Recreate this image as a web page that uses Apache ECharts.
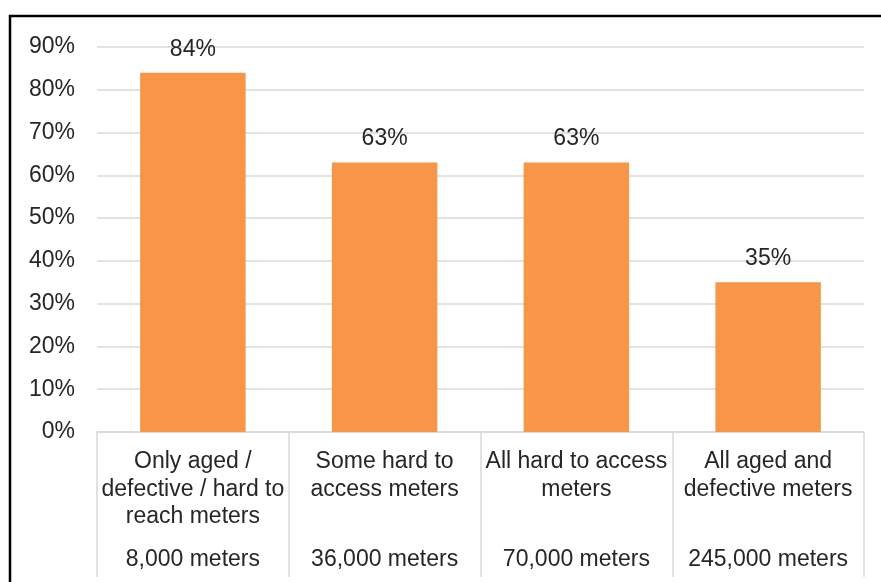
<!DOCTYPE html>
<html>
<head>
    <meta charset="utf-8"/>
    <title>ECharts</title>
    <script src="https://cdn.jsdelivr.net/npm/echarts@6/dist/echarts.min.js"></script>
    <style>
        body { margin: 0; background: #fff; }
    </style>
</head>
<body>
<div id="main" style="width: 881px;height:582px;"></div>
<script type="text/javascript">
    // 类别名称
    var categories = ['Only aged /\ndefective / hard to\nreach meters', 'Some hard to\naccess meters', 'All hard to access\nmeters', 'All aged and\ndefective meters'];
    // 表计数量
    var meterCounts = ['8,000 meters', '36,000 meters', '70,000 meters', '245,000 meters'];
    // 百分比
    var shares = [84, 63, 63, 35];

    var myChart = echarts.init(document.getElementById('main'));
    var font = 'Liberation Sans, Arial, sans-serif';

    var option = {
        animation: false,
        graphic: [{
            type: 'rect',
            shape: { x: 10, y: 16, width: 900, height: 600 },
            style: { fill: 'none', stroke: '#000', lineWidth: 2.5 }
        }],
        grid: { left: 97, right: 17, top: 47, bottom: 150 },
        xAxis: [{
            type: 'category',
            data: categories,
            axisLine: { lineStyle: { color: '#d9d9d9', width: 1.5 } },
            axisTick: { show: true, length: 145, lineStyle: { color: '#d9d9d9', width: 1.5 } },
            axisLabel: {
                interval: 0, margin: 16, color: '#262626',
                fontFamily: font, fontSize: 23, lineHeight: 27.5
            }
        }, {
            type: 'category',
            data: meterCounts,
            position: 'bottom',
            offset: 100,
            axisLine: { show: false },
            axisTick: { show: false },
            axisLabel: {
                interval: 0, margin: 14, color: '#262626',
                fontFamily: font, fontSize: 23, lineHeight: 27.5
            }
        }],
        yAxis: {
            type: 'value',
            min: 0, max: 90, interval: 10,
            axisLine: { show: false },
            axisTick: { show: false },
            splitLine: { lineStyle: { color: '#d9d9d9', width: 1.5 } },
            axisLabel: {
                formatter: '{value}%', margin: 22, color: '#262626',
                fontFamily: font, fontSize: 23
            }
        },
        series: [{
            type: 'bar',
            data: shares,
            barWidth: '55%',
            itemStyle: { color: '#F79646' },
            label: {
                show: true, position: 'top', distance: 12,
                formatter: '{c}%', color: '#262626',
                fontFamily: font, fontSize: 23
            }
        }]
    };

    myChart.setOption(option);
</script>
</body>
</html>
